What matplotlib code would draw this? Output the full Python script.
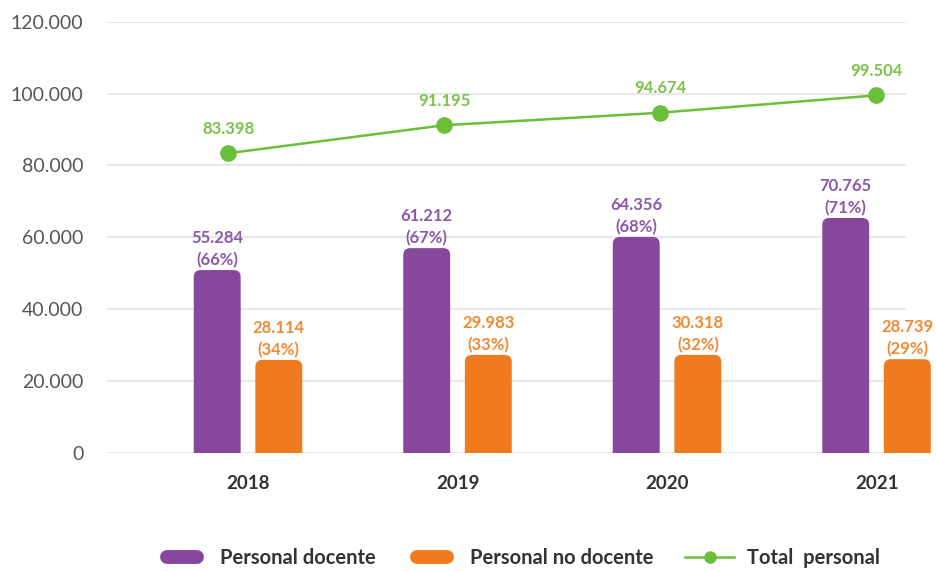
import matplotlib
matplotlib.use("Agg")
import matplotlib.pyplot as plt
from matplotlib.path import Path
from matplotlib.patches import PathPatch
from matplotlib.lines import Line2D
from matplotlib.legend_handler import HandlerLine2D
from matplotlib.ticker import FuncFormatter

# ---- data ----
years = ["2018", "2019", "2020", "2021"]
docente_labels = ["55.284", "61.212", "64.356", "70.765"]
docente_pct = ["66%", "67%", "68%", "71%"]
no_docente_labels = ["28.114", "29.983", "30.318", "28.739"]
no_docente_pct = ["34%", "33%", "32%", "29%"]
# bar heights as drawn in the picture
docente_heights = [50900, 57000, 60100, 65400]
no_docente_heights = [25900, 27300, 27300, 26100]
total_values = [83398, 91195, 94674, 99504]
total_labels = ["83.398", "91.195", "94.674", "99.504"]
y_ticks = [0, 20000, 40000, 60000, 80000, 100000, 120000]

PURPLE = "#87479d"
PURPLE_TXT = "#8c58aa"
ORANGE = "#f07b1f"
ORANGE_TXT = "#f28a32"
GREEN = "#6abf3a"
GREEN_TXT = "#7cc24a"

plt.rcParams["font.family"] = ["Lato", "DejaVu Sans"]

fig = plt.figure(figsize=(9.36, 5.71), dpi=100)
ax = fig.add_axes([107 / 936, 1 - 453 / 571, (935 - 107) / 936, (453 - 21.7) / 571])

n = len(years)
xs = list(range(n))
bw = 0.224
off = 0.147

ax.set_xlim(-0.673, 3.279)
ax.set_ylim(0, 120000)

rx = 7 / 209.5
ry = 7 / 431.3 * 120000


def rounded_top(rect, color):
    x0 = rect.get_x()
    x1 = x0 + rect.get_width()
    h = rect.get_height()
    verts = [(x0, 0), (x0, h - ry), (x0, h), (x0 + rx, h), (x1 - rx, h),
             (x1, h), (x1, h - ry), (x1, 0), (x0, 0)]
    codes = [Path.MOVETO, Path.LINETO, Path.CURVE3, Path.CURVE3, Path.LINETO,
             Path.CURVE3, Path.CURVE3, Path.LINETO, Path.CLOSEPOLY]
    p = PathPatch(Path(verts, codes), facecolor=color, edgecolor="none", zorder=3)
    ax.add_patch(p)
    rect.set_visible(False)


bars1 = ax.bar([x - off for x in xs], docente_heights, width=bw, color=PURPLE)
bars2 = ax.bar([x + off for x in xs], no_docente_heights, width=bw, color=ORANGE)
for r in bars1:
    rounded_top(r, PURPLE)
for r in bars2:
    rounded_top(r, ORANGE)

for i in range(n):
    ax.annotate(f"{docente_labels[i]}\n({docente_pct[i]})",
                (xs[i] - off, docente_heights[i]), xytext=(0, 1.5),
                textcoords="offset points", ha="center", va="bottom",
                fontsize=12, fontweight="bold", color=PURPLE_TXT,
                linespacing=1.4, zorder=5)
    ax.annotate(f"{no_docente_labels[i]}\n({no_docente_pct[i]})",
                (xs[i] + off, no_docente_heights[i]), xytext=(0, 1.5),
                textcoords="offset points", ha="center", va="bottom",
                fontsize=12, fontweight="bold", color=ORANGE_TXT,
                linespacing=1.4, zorder=5)

# line sits on its own slightly wider x-spacing, as in the original
lx = [-0.095 + 1.031 * x for x in xs]
ax.plot(lx, total_values, color=GREEN, linewidth=1.8, marker="o",
        markersize=11, markerfacecolor=GREEN, markeredgecolor=GREEN, zorder=6)
for i in range(n):
    ax.annotate(total_labels[i], (lx[i], total_values[i]), xytext=(0, 12),
                textcoords="offset points", ha="center", va="bottom",
                fontsize=12, fontweight="bold", color=GREEN_TXT, zorder=6)

# grid
for yv in y_ticks:
    ax.axhline(yv, xmin=0, xmax=0.964, color="#e8e8e8", linewidth=1.5, zorder=1)

for s in ax.spines.values():
    s.set_visible(False)
ax.set_yticks(y_ticks)
ax.yaxis.set_major_formatter(FuncFormatter(lambda v, p: f"{int(v):,}".replace(",", ".")))
ax.tick_params(axis="y", length=0, pad=17, labelsize=14, labelcolor="#555555")
ax.set_xticks(xs)
ax.set_xticklabels(years)
ax.tick_params(axis="x", length=0, pad=16, labelsize=13.5, labelcolor="#333333")
for t in ax.get_xticklabels():
    t.set_fontweight("bold")


class PillHandler(HandlerLine2D):
    def __init__(self, frac, **kw):
        super().__init__(**kw)
        self.frac = frac

    def create_artists(self, legend, orig_handle, xdescent, ydescent, width,
                       height, fontsize, trans):
        w2 = width * self.frac
        return super().create_artists(legend, orig_handle,
                                      xdescent - (width - w2) / 2, ydescent,
                                      w2, height, fontsize, trans)


h_doc = Line2D([0], [0], color=PURPLE, linewidth=10, solid_capstyle="round")
h_nodoc = Line2D([0], [0], color=ORANGE, linewidth=10, solid_capstyle="round")
h_tot = Line2D([0], [0], color=GREEN, linewidth=1.8, marker="o", markersize=8)
labels = ["Personal docente", "Personal no docente", "Total  personal"]
leg = fig.legend([h_doc, h_nodoc, h_tot], labels, loc="center",
                 bbox_to_anchor=(519 / 936, 1 - 558 / 571),
                 ncol=3, frameon=False, fontsize=14.5, handlelength=2.43,
                 handletextpad=0.65, columnspacing=1.6, borderaxespad=0,
                 handler_map={h_doc: PillHandler(0.6), h_nodoc: PillHandler(0.6)})
for t in leg.get_texts():
    t.set_color("#333333")
    t.set_fontweight("bold")

fig.savefig("out.png", dpi=100)
